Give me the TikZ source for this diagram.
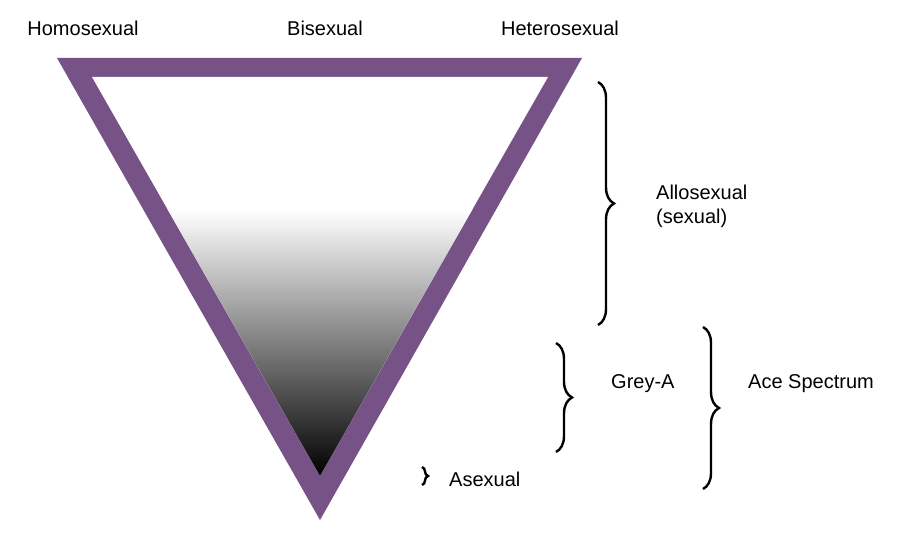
\documentclass[tikz,border=0pt]{standalone}
\usepackage{fontspec}
\setmainfont{Liberation Sans}
\usetikzlibrary{decorations.pathreplacing}
\definecolor{tripurple}{HTML}{775287}
\begin{document}
\begin{tikzpicture}[x=1pt,y=1pt,
  lab/.style={font=\fontsize{20}{24}\selectfont,inner sep=0pt},
  br/.style={decorate,decoration={brace,amplitude=#1},line width=2.4pt}]
\useasboundingbox (0,0) rectangle (917,536);
\fill[tripurple] (57,478) -- (582,478) -- (320,16) -- cycle;
\fill[white] (92,459) -- (548,459) -- (320,60) -- cycle;
\begin{scope}
\clip (92,459) -- (548,459) -- (320,60) -- cycle;
\shade[top color=white,bottom color=black] (80,326) rectangle (560,60);
\end{scope}
\node[lab] (homo) at (83,508) {Homosexual};
\node[lab] (bi) at (325,508) {Bisexual};
\node[lab] (hetero) at (560,508) {Heterosexual};
\coordinate (a1) at (598,454); \coordinate (a2) at (598,211);
\draw[br=16pt] (a1) -- (a2);
\node[lab,anchor=west,align=left] (allo) at (656,330) {Allosexual\\(sexual)};
\coordinate (g1) at (556,193); \coordinate (g2) at (556,84);
\draw[br=16pt] (g1) -- (g2);
\node[lab,anchor=west] (grey) at (611,152) {Grey-A};
\coordinate (c1) at (703,209); \coordinate (c2) at (703,47);
\draw[br=16pt] (c1) -- (c2);
\node[lab,anchor=west] (ace) at (748,152) {Ace Spectrum};
\coordinate (s1) at (422,69); \coordinate (s2) at (422,51);
\draw[br=6pt] (s1) -- (s2);
\node[lab,anchor=west] (asex) at (449,57) {Asexual};
\end{tikzpicture}
\end{document}
